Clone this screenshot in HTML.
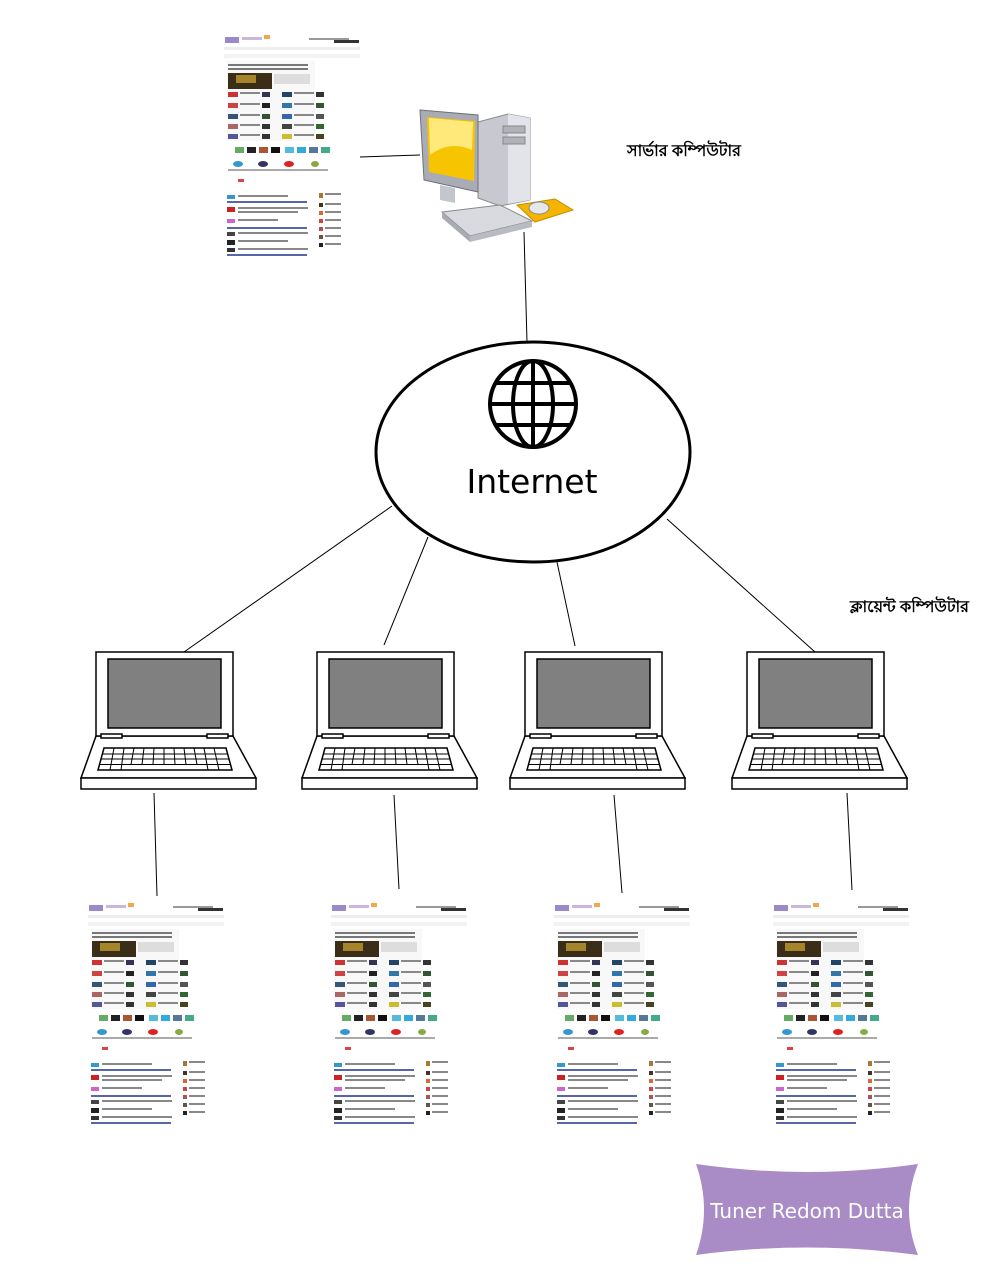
<!DOCTYPE html>
<html><head><meta charset="utf-8"><style>
body{margin:0;background:#fff;width:1000px;height:1284px;overflow:hidden}
svg{position:absolute;left:0;top:0}
</style></head><body>
<svg width="1000" height="1284" viewBox="0 0 1000 1284" xmlns="http://www.w3.org/2000/svg">
<defs>
<g id="page">
<rect x="0" y="0" width="136" height="222" fill="#fff"/>
<rect x="1" y="2" width="14" height="6" fill="#9b8ac9"/>
<rect x="18" y="2" width="20" height="3" fill="#c9b7e0"/>
<rect x="40" y="0" width="6" height="4" fill="#f5a64a"/>
<rect x="85" y="3" width="40" height="2" fill="#999"/>
<rect x="110" y="5" width="25" height="3" fill="#333"/>
<rect x="0" y="12" width="136" height="3" fill="#eee"/>
<rect x="0" y="19" width="136" height="4" fill="#f3f3f3"/>
<rect x="3" y="26" width="88" height="80" fill="#f8f8f8"/>
<rect x="4" y="29" width="80" height="2" fill="#777"/>
<rect x="4" y="33" width="80" height="2" fill="#777"/>
<rect x="4" y="38" width="44" height="16" fill="#3a2e18"/>
<rect x="12" y="40" width="20" height="8" fill="#a68429"/>
<rect x="50" y="39" width="36" height="10" fill="#ddd"/>
<g fill="#888">
<rect x="4" y="57" width="10" height="5" fill="#c33"/><rect x="16" y="57" width="20" height="2"/><rect x="38" y="57" width="8" height="5" fill="#335"/>
<rect x="58" y="57" width="10" height="5" fill="#246"/><rect x="70" y="57" width="20" height="2"/><rect x="92" y="57" width="8" height="5" fill="#333"/>
<rect x="4" y="68" width="10" height="5" fill="#c44"/><rect x="16" y="68" width="20" height="2"/><rect x="38" y="68" width="8" height="5" fill="#222"/>
<rect x="58" y="68" width="10" height="5" fill="#37a"/><rect x="70" y="68" width="20" height="2"/><rect x="92" y="68" width="8" height="5" fill="#353"/>
<rect x="4" y="79" width="10" height="5" fill="#357"/><rect x="16" y="79" width="20" height="2"/><rect x="38" y="79" width="8" height="5" fill="#353"/>
<rect x="58" y="79" width="10" height="5" fill="#36a"/><rect x="70" y="79" width="20" height="2"/><rect x="92" y="79" width="8" height="5" fill="#555"/>
<rect x="4" y="89" width="10" height="5" fill="#a66"/><rect x="16" y="89" width="20" height="2"/><rect x="38" y="89" width="8" height="5" fill="#333"/>
<rect x="58" y="89" width="10" height="5" fill="#444"/><rect x="70" y="89" width="20" height="2"/><rect x="92" y="89" width="8" height="5" fill="#363"/>
<rect x="4" y="99" width="10" height="5" fill="#559"/><rect x="16" y="99" width="20" height="2"/><rect x="38" y="99" width="8" height="5" fill="#333"/>
<rect x="58" y="99" width="10" height="5" fill="#cb3"/><rect x="70" y="99" width="20" height="2"/><rect x="92" y="99" width="8" height="5" fill="#442"/>
</g>
<rect x="11" y="112" width="9" height="6" fill="#6a6"/><rect x="23" y="112" width="9" height="6" fill="#222"/><rect x="35" y="112" width="9" height="6" fill="#a53"/><rect x="47" y="112" width="9" height="6" fill="#111"/><rect x="61" y="112" width="9" height="6" fill="#5bd"/><rect x="73" y="112" width="9" height="6" fill="#3ad"/><rect x="85" y="112" width="9" height="6" fill="#579"/><rect x="97" y="112" width="9" height="6" fill="#4a8"/>
<ellipse cx="14" cy="129" rx="5" ry="3" fill="#39c"/><ellipse cx="39" cy="129" rx="5" ry="3" fill="#336"/><ellipse cx="65" cy="129" rx="5" ry="3" fill="#d22"/><ellipse cx="91" cy="129" rx="4" ry="3" fill="#8a4"/>
<rect x="4" y="134" width="100" height="2" fill="#aaa"/>
<rect x="14" y="144" width="6" height="3" fill="#d44"/>
<g fill="#888">
<rect x="3" y="160" width="8" height="4" fill="#39c"/><rect x="14" y="160" width="50" height="2"/>
<rect x="3" y="166" width="80" height="2" fill="#56a"/>
<rect x="3" y="172" width="8" height="5" fill="#c22"/><rect x="14" y="172" width="70" height="2"/><rect x="14" y="176" width="60" height="2"/>
<rect x="3" y="184" width="8" height="4" fill="#c6c"/><rect x="14" y="184" width="40" height="2"/>
<rect x="3" y="192" width="80" height="2" fill="#56a"/>
<rect x="3" y="197" width="8" height="4" fill="#444"/><rect x="14" y="197" width="70" height="2"/>
<rect x="3" y="205" width="8" height="5" fill="#222"/><rect x="14" y="205" width="50" height="2"/>
<rect x="3" y="213" width="8" height="4" fill="#333"/><rect x="14" y="213" width="70" height="2"/>
<rect x="3" y="219" width="80" height="2" fill="#56a"/>
<rect x="95" y="158" width="4" height="5" fill="#a73"/><rect x="95" y="168" width="4" height="4" fill="#432"/><rect x="95" y="176" width="4" height="4" fill="#d63"/><rect x="95" y="184" width="4" height="4" fill="#c44"/><rect x="95" y="192" width="4" height="4" fill="#a55"/><rect x="95" y="200" width="4" height="4" fill="#654"/><rect x="95" y="208" width="4" height="4" fill="#222"/>
<rect x="101" y="158" width="16" height="2"/><rect x="101" y="168" width="16" height="2"/><rect x="101" y="176" width="16" height="2"/><rect x="101" y="184" width="16" height="2"/><rect x="101" y="192" width="16" height="2"/><rect x="101" y="200" width="16" height="2"/><rect x="101" y="208" width="16" height="2"/>
</g>
</g>
<g id="laptop" fill="#fff" stroke="#000" stroke-width="1.5">
<path d="M96 736 L233 736 L256 778 L81 778 Z"/>
<rect x="81" y="778" width="175" height="11"/>
<rect x="96" y="652" width="137" height="84"/>
<rect x="108" y="659" width="113" height="69" fill="#808080"/>
<rect x="101" y="734" width="21" height="4"/>
<rect x="207" y="734" width="21" height="4"/>
<path d="M104 748 L226 748 L232 770 L98 770 Z"/>
<g stroke-width="1">
<line x1="102.5" y1="754" x2="227.5" y2="754"/><line x1="100.5" y1="759" x2="229.5" y2="759"/><line x1="99" y1="764.5" x2="231" y2="764.5"/>
<line x1="114" y1="748" x2="110" y2="770"/><line x1="124" y1="748" x2="121" y2="770"/><line x1="134" y1="748" x2="131" y2="764.5"/><line x1="144" y1="748" x2="142" y2="764.5"/><line x1="154" y1="748" x2="153" y2="764.5"/><line x1="164" y1="748" x2="164" y2="764.5"/><line x1="174" y1="748" x2="175" y2="764.5"/><line x1="184" y1="748" x2="186" y2="764.5"/><line x1="194" y1="748" x2="197" y2="764.5"/><line x1="204" y1="748" x2="208" y2="770"/><line x1="214" y1="748" x2="219" y2="770"/>
</g>
</g>
</defs>

<!-- lines -->
<g stroke="#000" stroke-width="1" fill="none">
<line x1="360" y1="157" x2="420" y2="155"/>
<line x1="524" y1="232" x2="527" y2="342"/>
<line x1="392" y1="506" x2="184" y2="652"/>
<line x1="428" y1="537" x2="384" y2="645"/>
<line x1="557" y1="562" x2="575" y2="646"/>
<line x1="667" y1="519" x2="815" y2="652"/>
<line x1="154" y1="793" x2="157" y2="896"/>
<line x1="394" y1="795" x2="399" y2="889"/>
<line x1="614" y1="795" x2="622" y2="893"/>
<line x1="847" y1="793" x2="852" y2="890"/>
</g>

<use href="#page" x="224" y="35"/>
<use href="#page" x="88" y="903"/>
<use href="#page" x="331" y="903"/>
<use href="#page" x="554" y="903"/>
<use href="#page" x="773" y="903"/>

<!-- computer -->
<g>
<path d="M478 122 L508 114 L530 118 L530 200 L500 206 L478 198 Z" fill="#c8c9d0" stroke="#8a8c96"/>
<path d="M508 114 L530 118 L530 200 L508 204 Z" fill="#e3e4ea"/>
<rect x="503" y="126" width="22" height="7" fill="#b0b2ba" stroke="#888"/>
<rect x="503" y="137" width="22" height="7" fill="#b0b2ba" stroke="#888"/>
<path d="M420 110 L478 115 L478 192 L424 180 Z" fill="#a9abb5" stroke="#6d6f78"/>
<path d="M427 117 L475 121 L474 181 L429 172 Z" fill="#f6c400"/>
<path d="M429 118 L473 122 L472 150 Q450 140 430 155 Z" fill="#ffe97a"/>
<path d="M440 185 L455 188 L455 203 L440 200 Z" fill="#c4c6cd"/>
<path d="M517 205 L555 199 L573 210 L535 222 Z" fill="#f4b400" stroke="#c38f00"/>
<ellipse cx="539" cy="208" rx="10" ry="6" fill="#e6e7ec" stroke="#888"/>
<path d="M442 212 L500 205 L532 221 L470 236 Z" fill="#d9dae0" stroke="#888"/>
<path d="M442 212 L470 236 L470 242 L442 218 Z" fill="#a9abb3"/>
<path d="M470 236 L532 221 L532 227 L470 242 Z" fill="#b9bbc3"/>
</g>
<text x="627" y="156" font-family="'Liberation Sans','Noto Sans CJK SC',sans-serif" font-size="16" font-weight="bold">সার্ভার কম্পিউটার</text>

<!-- ellipse -->
<ellipse cx="533" cy="452" rx="157" ry="110" fill="#fff" stroke="#000" stroke-width="3"/>
<g fill="none" stroke="#000" stroke-width="4">
<circle cx="533" cy="404" r="43"/>
<ellipse cx="533" cy="404" rx="20" ry="43"/>
<line x1="533" y1="361" x2="533" y2="447"/>
<line x1="490" y1="404" x2="576" y2="404"/>
<line x1="496" y1="383" x2="570" y2="383"/>
<line x1="496" y1="425" x2="570" y2="425"/>
</g>
<text x="532" y="493" text-anchor="middle" font-family="'DejaVu Sans','Liberation Sans',sans-serif" font-size="33">Internet</text>

<use href="#laptop" x="0" y="0"/>
<use href="#laptop" x="221" y="0"/>
<use href="#laptop" x="429" y="0"/>
<use href="#laptop" x="651" y="0"/>
<text x="850" y="612" font-family="'Liberation Sans','Noto Sans CJK SC',sans-serif" font-size="16" font-weight="bold">ক্লায়েন্ট কম্পিউটার</text>

<!-- banner -->
<path d="M696 1164 Q807 1180 918 1164 Q900 1210 918 1255 Q807 1240 696 1255 Q712 1210 696 1164 Z" fill="#a98bc6"/>
<text x="807" y="1218" text-anchor="middle" fill="#fff" font-family="'DejaVu Sans','Liberation Sans',sans-serif" font-size="20">Tuner Redom Dutta</text>
</svg>
</body></html>
